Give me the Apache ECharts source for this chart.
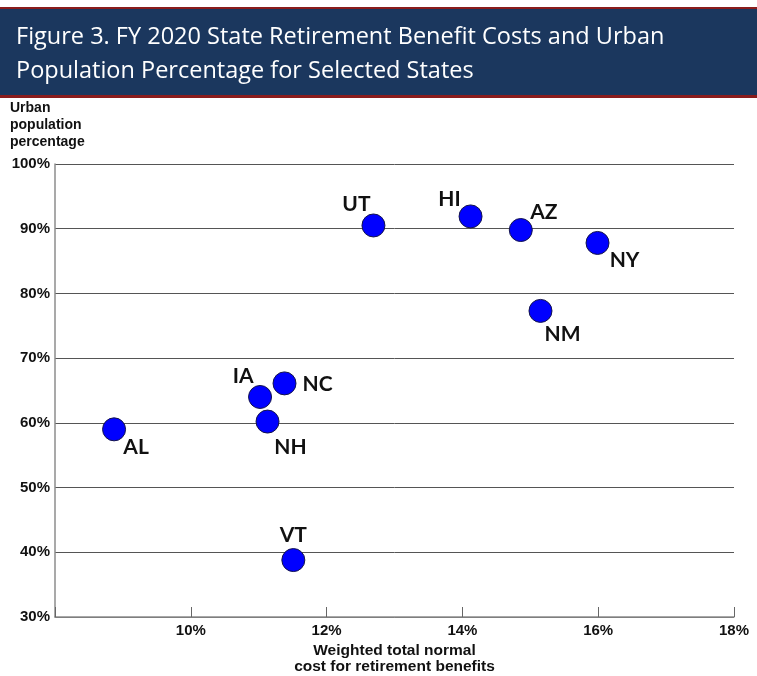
<!DOCTYPE html>
<html>
<head>
<meta charset="utf-8">
<script src="https://cdn.jsdelivr.net/npm/echarts@6/dist/echarts.min.js"></script>
<style>
html,body{margin:0;padding:0;background:#fff;}
#chart{width:757px;height:676px;}
</style>
</head>
<body>
<div id="chart"></div>
<script>
// ---- data ----
const states = ['UT', 'HI', 'AZ', 'NY', 'NM', 'NC', 'IA', 'NH', 'AL', 'VT'];
const normalCost = [12.69, 14.12, 14.86, 15.99, 15.15, 11.38, 11.02, 11.13, 8.87, 11.51];      // % weighted total normal cost
const urbanPct   = [90.5, 91.9, 89.8, 87.8, 77.3, 66.1, 64.0, 60.2, 59.0, 38.8];              // % urban population
const xTicks = [8, 10, 12, 14, 16, 18];
const yTicks = [30, 40, 50, 60, 70, 80, 90, 100];

// ---- label placement (style only) ----
const labelOffsets = {
  UT: [-17, -21], HI: [-21, -17], AZ: [23, -18], NY: [27, 17], NM: [22, 23],
  NC: [33, 1], IA: [-17, -21], NH: [23, 26], AL: [22, 18], VT: [0, -25]
};

const points = states.map((s, i) => ({
  name: s,
  value: [normalCost[i], urbanPct[i]],
  label: { offset: labelOffsets[s] }
}));

const axisFont = '"Liberation Sans", Arial, sans-serif';
const chart = echarts.init(document.getElementById('chart'), null, { renderer: 'canvas' });

chart.setOption({
  backgroundColor: '#ffffff',
  animation: false,
  graphic: [
    { type: 'rect', left: 0, top: 7, shape: { width: 757, height: 2 }, style: { fill: '#8a1c1c' } },
    { type: 'rect', left: 0, top: 9, shape: { width: 757, height: 86 }, style: { fill: '#1b375e' } },
    { type: 'rect', left: 0, top: 95, shape: { width: 757, height: 3 }, style: { fill: '#8a1c1c' } },
    { type: 'text', left: 16, top: 20, style: {
        text: 'Figure 3. FY 2020 State Retirement Benefit Costs and Urban\nPopulation Percentage for Selected States',
        fill: '#ffffff', font: '23.5px "Open Sans", Lato, sans-serif', lineHeight: 34 } }
  ],
  grid: { left: 55, right: 23, top: 164, bottom: 59, containLabel: false, outerBoundsMode: 'none' },
  xAxis: {
    type: 'value', min: xTicks[0], max: xTicks[xTicks.length - 1], interval: 2,
    name: 'Weighted total normal\ncost for retirement benefits',
    nameLocation: 'middle', nameGap: 24,
    nameTextStyle: { fontFamily: axisFont, fontWeight: 'bold', fontSize: 15.5, color: '#111', lineHeight: 16, verticalAlign: 'top' },
    axisLine: { show: true, lineStyle: { color: '#8c8c8c', width: 1.5 } },
    axisTick: { show: true, inside: true, length: 10, lineStyle: { color: '#666' } },
    axisLabel: { formatter: v => v === xTicks[0] ? '' : v + '%', fontFamily: axisFont, fontWeight: 'bold', fontSize: 15, color: '#111', margin: 6 },
    splitLine: { show: false }
  },
  yAxis: {
    type: 'value', min: yTicks[0], max: yTicks[yTicks.length - 1], interval: 10,
    name: 'Urban\npopulation\npercentage',
    nameLocation: 'end', nameGap: 13,
    nameTextStyle: { fontFamily: axisFont, fontWeight: 'bold', fontSize: 14, color: '#111', lineHeight: 17, align: 'left', verticalAlign: 'bottom', padding: [0, 0, 0, -45] },
    axisLine: { show: true, lineStyle: { color: '#8c8c8c', width: 1.5 } },
    axisTick: { show: false },
    axisLabel: { formatter: '{value}%', fontFamily: axisFont, fontWeight: 'bold', fontSize: 15, color: '#111', margin: 5 },
    splitLine: { show: true, lineStyle: { color: '#555', width: 1 } }
  },
  series: [{
    type: 'scatter',
    symbol: 'circle',
    symbolSize: 23,
    itemStyle: { color: '#0000ff', borderColor: '#15154a', borderWidth: 1, opacity: 1 },
    label: {
      show: true, position: 'inside',
      formatter: p => p.name,
      fontFamily: 'Lato, "Open Sans", sans-serif', fontWeight: 'bold', fontSize: 21, color: '#111'
    },
    data: points
  }]
});
</script>
</body>
</html>
